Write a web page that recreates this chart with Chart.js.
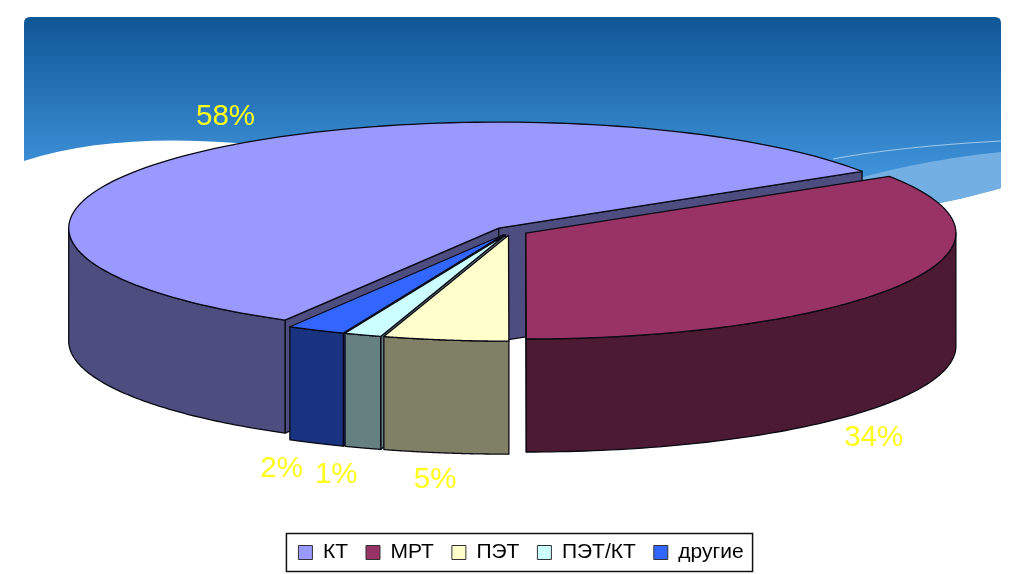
<!DOCTYPE html>
<html><head><meta charset="utf-8">
<script src="https://cdn.jsdelivr.net/npm/chart.js@4"></script>
<style>html,body{margin:0;padding:0;background:#fff;overflow:hidden;width:1024px;height:574px}#w{position:absolute;left:0;top:0;width:1024px;height:573px}</style>
</head><body><div id="w"><canvas id="c"></canvas></div>
<script>
const categories = ['КТ','МРТ','ПЭТ','ПЭТ/КТ','другие'];
const shares = [57.8,34,4.7,1.4,2.2];
const topColors = ['#9999ff','#993366','#ffffcc','#ccffff','#3366ff'];
const wallColors = ['#4d4d80','#4d1a33','#808066','#668080','#1a3380'];
const labelNudge = [[37.5,-38],[-29,41],[-10.5,27],[-26.5,27],[-34.5,26]];

const view = {cx:511, cy:231, squash:0.2465, depth:113, explode:17};

function project(el, a){
  const mid=(el.startAngle+el.endAngle)/2, R=el.outerRadius;
  const ex=Math.cos(mid)*view.explode, ey=Math.sin(mid)*view.explode;
  return {apex:[view.cx+ex, view.cy+view.squash*ey],
          x:view.cx+ex+R*Math.cos(a), y:view.cy+view.squash*(ey+R*Math.sin(a))};
}
function wallPoly(ctx,pts,fill){
  ctx.beginPath();pts.forEach((p,i)=>i?ctx.lineTo(p[0],p[1]):ctx.moveTo(p[0],p[1]));ctx.closePath();
  ctx.fillStyle=fill;ctx.fill();ctx.stroke();
}
const pie3d = {
  id:'pie3d',
  beforeDraw(chart){
    const ctx=chart.ctx;ctx.save();
    ctx.fillStyle='#fff';ctx.fillRect(0,0,1024,578);
    const L=24,T=17,Rt=1001;
    const blue=()=>{ctx.beginPath();ctx.moveTo(L,161);ctx.lineTo(L,23);ctx.quadraticCurveTo(L,T,L+6,T);
      ctx.lineTo(Rt-6,T);ctx.quadraticCurveTo(Rt,T,Rt,T+6);ctx.lineTo(Rt,188);
      ctx.bezierCurveTo(950,203,900,212,800,225);ctx.lineTo(400,225);ctx.lineTo(300,150);
      ctx.bezierCurveTo(200,136,100,136,L,161);ctx.closePath();};
    const g=ctx.createLinearGradient(0,T,0,175);g.addColorStop(0,'#0f5696');g.addColorStop(1,'#3f93da');
    blue();ctx.fillStyle=g;ctx.fill();
    ctx.save();blue();ctx.clip();
    ctx.beginPath();ctx.moveTo(Rt,152);ctx.bezierCurveTo(940,158,880,170,820,190);ctx.lineTo(800,240);ctx.lineTo(Rt,240);ctx.closePath();
    ctx.fillStyle='#74afe3';ctx.fill();
    ctx.restore();
    ctx.beginPath();ctx.moveTo(Rt,141);ctx.bezierCurveTo(930,145,880,150,833,159);ctx.strokeStyle='#9fc8ec';ctx.lineWidth=1.2;ctx.stroke();
    ctx.restore();
  },
  beforeDatasetsDraw(chart){
    const ctx=chart.ctx, arcs=chart.getDatasetMeta(0).data;
    const order=arcs.map((el,i)=>i).sort((p,q)=>
      Math.sin((arcs[p].startAngle+arcs[p].endAngle)/2)-Math.sin((arcs[q].startAngle+arcs[q].endAngle)/2));
    ctx.save();ctx.lineJoin='round';
    order.forEach(i=>{
      const el=arcs[i];
      const s=el.startAngle,e=el.endAngle,d=view.depth;
      const a=project(el,s),b=project(el,e),ap=a.apex;
      ctx.strokeStyle='#0a0a14';ctx.lineWidth=1.3;
      if(Math.cos(s)<0) wallPoly(ctx,[ap,[a.x,a.y],[a.x,a.y+d],[ap[0],ap[1]+d]],wallColors[i]);
      if(Math.cos(e)>1e-6) wallPoly(ctx,[ap,[b.x,b.y],[b.x,b.y+d],[ap[0],ap[1]+d]],wallColors[i]);
      for(let k=-2;k<=2;k++){
        const lo=Math.max(s,k*2*Math.PI),hi=Math.min(e,k*2*Math.PI+Math.PI);
        if(hi<=lo)continue;
        const pts=[];const n=80;
        for(let j=0;j<=n;j++){const p=project(el,lo+(hi-lo)*j/n);pts.push([p.x,p.y]);}
        for(let j=n;j>=0;j--){pts.push([pts[j][0],pts[j][1]+d]);}
        wallPoly(ctx,pts,wallColors[i]);
      }
      ctx.save();
      const mid=(s+e)/2;
      ctx.translate(view.cx,view.cy);ctx.scale(1,view.squash);
      ctx.translate(Math.cos(mid)*view.explode-el.x,Math.sin(mid)*view.explode-el.y);
      el.draw(ctx);
      ctx.restore();
      ctx.beginPath();ctx.moveTo(ap[0],ap[1]);ctx.lineTo(a.x,a.y);
      for(let j=1;j<=120;j++){const p=project(el,s+(e-s)*j/120);ctx.lineTo(p.x,p.y);}
      ctx.closePath();ctx.stroke();
    });
    ctx.restore();
    return false;
  },
  afterDraw(chart){
    const ctx=chart.ctx, arcs=chart.getDatasetMeta(0).data, vals=chart.data.datasets[0].data;
    ctx.save();ctx.font='29.5px "Liberation Sans"';ctx.fillStyle='#ffff1a';ctx.textAlign='center';ctx.textBaseline='middle';
    arcs.forEach((el,i)=>{
      const mid=(el.startAngle+el.endAngle)/2,p=project(el,mid);
      const front=Math.sin(mid)>0?view.depth:0;
      ctx.fillText(Math.round(vals[i])+'%',p.x+labelNudge[i][0],p.y+front+labelNudge[i][1]);
    });
    ctx.restore();
    const h=chart.legend.legendHitBoxes;
    if(!h||!h.length)return;
    const l=h[0].left-12,r=h[h.length-1].left+h[h.length-1].width+9,my=h[0].top+h[0].height/2;
    ctx.save();ctx.strokeStyle='#111';ctx.lineWidth=1.5;ctx.strokeRect(l,my-19,r-l,38);ctx.restore();
  }
};
new Chart(document.getElementById('c'),{
  type:'pie',
  data:{labels:categories,datasets:[{data:shares,backgroundColor:topColors,borderWidth:0,offset:0}]},
  plugins:[pie3d],
  options:{
    responsive:true,maintainAspectRatio:false,animation:false,
    rotation:-150.2,radius:430,
    layout:{padding:{left:18}},
    plugins:{tooltip:{enabled:false},
      legend:{position:'bottom',labels:{color:'#000',boxWidth:14,boxHeight:14,padding:18,
        font:{family:'"Liberation Sans"',size:21},
        generateLabels(c){return Chart.overrides.pie.plugins.legend.labels.generateLabels(c)
          .map(x=>Object.assign(x,{lineWidth:1,strokeStyle:'#333'}));}}}}
  }
});
</script></body></html>
